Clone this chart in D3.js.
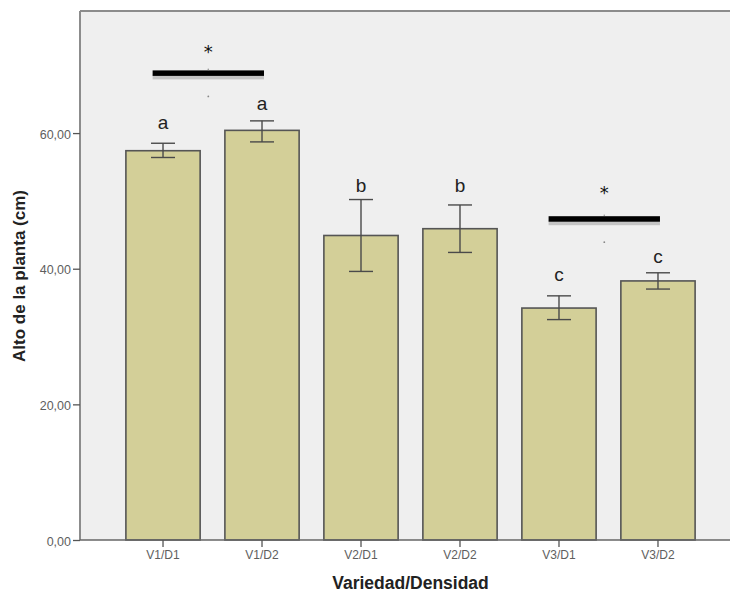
<!DOCTYPE html>
<html>
<head>
<meta charset="utf-8">
<script src="https://cdn.jsdelivr.net/npm/d3@7"></script>
<style>
  html, body { margin: 0; padding: 0; background: #ffffff; }
  svg { display: block; }
</style>
</head>
<body>
<svg id="chart" width="730" height="593"></svg>
<script>
// ---- data ----
const categories = ["V1/D1", "V1/D2", "V2/D1", "V2/D2", "V3/D1", "V3/D2"];
const means      = [57.4, 60.4, 44.9, 45.9, 34.2, 38.2];
const errLow     = [56.4, 58.7, 39.6, 42.4, 32.5, 37.0];
const errHigh    = [58.5, 61.8, 50.2, 49.4, 36.0, 39.4];
const letters    = ["a", "a", "b", "b", "c", "c"];
const letterPos  = [61.3, 64.1, 52.1, 52.1, 39.0, 41.6];
const yTicks     = [0, 20, 40, 60];
const sigFrom    = ["V1/D1", "V3/D1"];
const sigTo      = ["V1/D2", "V3/D2"];
const sigLevel   = [68.8, 47.3];
const sigStar    = [72.2, 51.4];
const yLabel = "Alto de la planta (cm)";
const xLabel = "Variedad/Densidad";

// ---- layout ----
const svg = d3.select("#chart");
const pL = 81, pR = 740, pT = 11, pB = 540;

const x = d3.scaleBand().domain(categories).range([pL, pR])
  .paddingInner(0.25).paddingOuter(0.4535);
const y = d3.scaleLinear().domain([0, 78]).range([pB, pT]);

// plot background
svg.append("rect").attr("x", pL).attr("y", pT)
  .attr("width", pR - pL).attr("height", pB - pT)
  .attr("fill", "#efefef");

// frame (top)
svg.append("line").attr("x1", pL - 1).attr("x2", pR).attr("y1", pT).attr("y2", pT)
  .attr("stroke", "#8c8c8c").attr("stroke-width", 2);

// bars
svg.append("g").selectAll("rect").data(categories).join("rect")
  .attr("x", d => x(d))
  .attr("y", (d, i) => y(means[i]))
  .attr("width", x.bandwidth())
  .attr("height", (d, i) => y(0) - y(means[i]))
  .attr("fill", "#d3cf98")
  .attr("stroke", "#555555")
  .attr("stroke-width", 1.6);

// error bars
const capW = 24;
const eg = svg.append("g").attr("stroke", "#4a4a4a").attr("stroke-width", 1.4);
categories.forEach((c, i) => {
  const cx = x(c) + x.bandwidth() / 2;
  eg.append("line").attr("x1", cx).attr("x2", cx).attr("y1", y(errLow[i])).attr("y2", y(errHigh[i]));
  eg.append("line").attr("x1", cx - capW / 2).attr("x2", cx + capW / 2).attr("y1", y(errLow[i])).attr("y2", y(errLow[i]));
  eg.append("line").attr("x1", cx - capW / 2).attr("x2", cx + capW / 2).attr("y1", y(errHigh[i])).attr("y2", y(errHigh[i]));
});

// letters
svg.append("g").selectAll("text").data(categories).join("text")
  .attr("x", d => x(d) + x.bandwidth() / 2)
  .attr("y", (d, i) => y(letterPos[i]) + 5)
  .attr("text-anchor", "middle")
  .attr("font-family", "'Liberation Sans', Arial, sans-serif")
  .attr("font-size", 19)
  .attr("fill", "#222222")
  .text((d, i) => letters[i]);

// significance bars
sigFrom.forEach((f, i) => {
  const step = x.step();
  const x1 = x(f) + x.bandwidth() / 2 - 0.105 * step;
  const x2 = x(sigTo[i]) + x.bandwidth() / 2 + 0.02 * step;
  const yy = y(sigLevel[i]);
  const mid = (x1 + x2) / 2;
  svg.append("rect").attr("x", x1).attr("y", yy + 1).attr("width", x2 - x1).attr("height", 5)
    .attr("fill", "#c4c4c4");
  svg.append("rect").attr("x", x1).attr("y", yy - 3).attr("width", x2 - x1).attr("height", 5.5)
    .attr("fill", "#000000");
  svg.append("circle").attr("cx", mid).attr("cy", yy - 4).attr("r", 0.8).attr("fill", "#999");
  svg.append("circle").attr("cx", mid).attr("cy", yy + 23).attr("r", 0.9).attr("fill", "#888");
  svg.append("text").attr("x", mid).attr("y", y(sigStar[i]) + 8)
    .attr("text-anchor", "middle")
    .attr("font-family", "'DejaVu Sans', sans-serif")
    .attr("font-size", 18)
    .attr("fill", "#111")
    .text("*");
});

// y axis
const yAxis = svg.append("g").attr("transform", `translate(${pL - 1},0)`)
  .call(d3.axisLeft(y).tickValues(yTicks).tickSize(7).tickPadding(2)
    .tickFormat(d => d3.format(".2f")(d).replace(".", ",")));
yAxis.select(".domain").attr("stroke", "#8c8c8c").attr("stroke-width", 2)
  .attr("d", `M0,${pT}V${pB}`);
yAxis.selectAll(".tick line").attr("stroke", "#555").attr("stroke-width", 1.3);
yAxis.selectAll(".tick text").attr("font-family", "'Liberation Sans', Arial, sans-serif")
  .attr("font-size", 12.5).attr("fill", "#5e5e5e").attr("dy", "0.4em");

// x axis
const xAxis = svg.append("g").attr("transform", `translate(0,${pB})`)
  .call(d3.axisBottom(x).tickSize(7).tickPadding(3));
xAxis.select(".domain").attr("stroke", "#666").attr("stroke-width", 1.6)
  .attr("d", `M${pL - 1},0H${pR}`);
xAxis.selectAll(".tick line").attr("stroke", "#555").attr("stroke-width", 1.3);
xAxis.selectAll(".tick text").attr("font-family", "'Liberation Sans', Arial, sans-serif")
  .attr("font-size", 12).attr("fill", "#5e5e5e");

// axis titles
svg.append("text")
  .attr("transform", `translate(25,276) rotate(-90)`)
  .attr("text-anchor", "middle")
  .attr("font-family", "'Liberation Sans', Arial, sans-serif")
  .attr("font-weight", "bold").attr("font-size", 17).attr("fill", "#222")
  .text(yLabel);
svg.append("text")
  .attr("x", (pL + pR) / 2).attr("y", 589)
  .attr("text-anchor", "middle")
  .attr("font-family", "'Liberation Sans', Arial, sans-serif")
  .attr("font-weight", "bold").attr("font-size", 17.5).attr("fill", "#222")
  .text(xLabel);
</script>
</body>
</html>
